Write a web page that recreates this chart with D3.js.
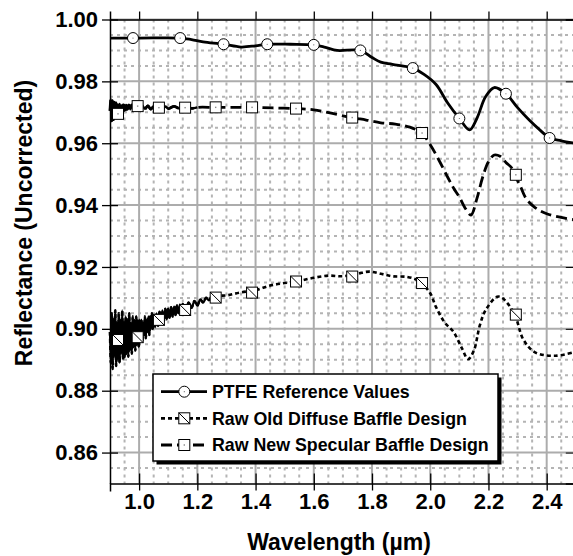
<!DOCTYPE html>
<html>
<head>
<meta charset="utf-8">
<script src="https://cdn.jsdelivr.net/npm/d3@7/dist/d3.min.js"></script>
<style>
  body { margin: 0; background: #fff; }
  svg { display: block; font-family: "Liberation Sans", Arial, sans-serif; font-weight: bold; }
</style>
</head>
<body>
<svg id="chart" width="573" height="556"></svg>
<script>
// ---- data: [wavelength (um), reflectance] ----
var ptfe = [[0.90,0.9940],[1.00,0.9940],[1.14,0.9940],[1.18,0.9935],[1.22,0.9928],[1.29,0.9920],
  [1.35,0.9911],[1.40,0.9915],[1.44,0.9920],[1.52,0.9920],[1.60,0.9918],[1.64,0.9910],[1.68,0.9900],
  [1.76,0.9900],[1.80,0.9877],[1.83,0.9862],[1.87,0.9855],[1.94,0.9843],[1.98,0.9822],[2.02,0.9790],
  [2.06,0.9730],[2.10,0.9680],[2.135,0.9643],[2.16,0.9680],[2.19,0.9750],[2.22,0.9780],[2.26,0.9760],
  [2.30,0.9715],[2.34,0.9675],[2.38,0.9640],[2.41,0.9617],[2.45,0.9608],[2.50,0.9600]];

var oldDiffuse = [[0.900,0.899],[0.903,0.889],[0.906,0.905],[0.909,0.887],[0.912,0.903],[0.915,0.891],
  [0.918,0.906],[0.921,0.888],[0.924,0.902],[0.927,0.890],[0.930,0.905],[0.933,0.889],[0.936,0.903],
  [0.939,0.892],[0.942,0.906],[0.945,0.890],[0.948,0.902],[0.951,0.891],[0.954,0.904],[0.957,0.892],
  [0.960,0.903],[0.963,0.891],[0.966,0.905],[0.969,0.893],[0.972,0.902],[0.975,0.892],[0.978,0.904],
  [0.981,0.894],[0.984,0.903],[0.987,0.893],[0.990,0.904],[0.993,0.895],[0.996,0.903],[0.999,0.894],
  [1.002,0.903],[1.005,0.896],[1.008,0.903],[1.011,0.896],[1.014,0.902],[1.017,0.898],[1.020,0.904],
  [1.023,0.897],[1.026,0.903],[1.029,0.899],[1.032,0.904],[1.035,0.898],[1.038,0.904],[1.041,0.900],
  [1.044,0.905],[1.047,0.900],[1.050,0.904],
  [1.055,0.9005],[1.060,0.9050],[1.065,0.9010],[1.070,0.9055],[1.075,0.9020],[1.080,0.9060],
  [1.085,0.9025],[1.090,0.9065],[1.095,0.9030],[1.100,0.9065],[1.105,0.9035],[1.110,0.9070],
  [1.115,0.9040],[1.120,0.9072],[1.125,0.9045],[1.130,0.9075],[1.135,0.9050],[1.140,0.9078],
  [1.145,0.9055],[1.150,0.9080],[1.160,0.9060],[1.170,0.9085],[1.180,0.9068],[1.190,0.9090],
  [1.200,0.9075],[1.210,0.9095],[1.220,0.9085],[1.230,0.9100],[1.240,0.9092],[1.250,0.9105],
  [1.30,0.9108],[1.35,0.9118],[1.40,0.9125],[1.45,0.9140],[1.50,0.9148],[1.55,0.9155],[1.60,0.9165],
  [1.65,0.9172],[1.70,0.9170],[1.75,0.9178],[1.79,0.9185],[1.83,0.9178],[1.87,0.9170],[1.92,0.9168],
  [1.95,0.9160],[1.97,0.9148],[2.00,0.9115],[2.02,0.9070],[2.05,0.9020],[2.08,0.8990],[2.11,0.8935],
  [2.13,0.8902],[2.15,0.8930],[2.17,0.9010],[2.19,0.9060],[2.23,0.9104],[2.25,0.9098],[2.29,0.9046],
  [2.32,0.8965],[2.36,0.8924],[2.43,0.8913],[2.50,0.8926]];

var newSpecular = [[0.900,0.9705],[0.903,0.9742],[0.906,0.9672],[0.909,0.9738],[0.912,0.9676],
  [0.915,0.9733],[0.918,0.9685],[0.921,0.9730],[0.924,0.9692],[0.927,0.9725],[0.930,0.9698],
  [0.933,0.9727],[0.936,0.9700],[0.939,0.9722],[0.942,0.9703],[0.945,0.9724],[0.948,0.9706],
  [0.951,0.9722],[0.954,0.9708],[0.957,0.9724],[0.960,0.9710],
  [0.965,0.9724],[0.970,0.9710],[0.975,0.9724],[0.980,0.9711],[0.985,0.9724],[0.990,0.9712],
  [0.995,0.9725],[1.00,0.9712],[1.01,0.9723],[1.02,0.9711],[1.03,0.9721],[1.04,0.9710],[1.05,0.9720],
  [1.06,0.9711],[1.07,0.9720],[1.08,0.9711],[1.09,0.9719],[1.10,0.9712],[1.12,0.9719],[1.14,0.9712],
  [1.16,0.9718],[1.18,0.9713],[1.20,0.9716],[1.26,0.9716],[1.32,0.9716],[1.39,0.9716],[1.46,0.9714],
  [1.54,0.9712],[1.60,0.9708],[1.66,0.9697],[1.73,0.9683],[1.78,0.9675],[1.83,0.9666],[1.88,0.9662],
  [1.93,0.9652],[1.97,0.9633],[2.00,0.9595],[2.03,0.9545],[2.06,0.9490],[2.08,0.9455],[2.10,0.9426],
  [2.12,0.9390],[2.14,0.9368],[2.16,0.9420],[2.18,0.9490],[2.20,0.9540],[2.22,0.9562],[2.24,0.9558],
  [2.26,0.9538],[2.28,0.9520],[2.29,0.9498],[2.31,0.9460],[2.33,0.9420],[2.36,0.9392],[2.40,0.9372],
  [2.45,0.9360],[2.50,0.9352]];

var ptfeMarks = [[0.979,0.994],[1.141,0.994],[1.29,0.992],[1.44,0.992],[1.60,0.9918],
  [1.76,0.990],[1.94,0.9843],[2.10,0.968],[2.26,0.976],[2.41,0.9617]];
var oldMarks = [[0.9275,0.8964],[0.995,0.8973],[1.068,0.9029],[1.158,0.9061],[1.263,0.9101],
  [1.388,0.9117],[1.539,0.9153],[1.732,0.9169],[1.972,0.9148],[2.294,0.9046]];
var newMarks = [[0.9275,0.9695],[0.995,0.972],[1.068,0.9715],[1.158,0.9715],[1.263,0.9716],
  [1.388,0.9716],[1.539,0.9712],[1.732,0.9683],[1.972,0.9633],[2.294,0.9498]];

var xTicks = [1.0, 1.2, 1.4, 1.6, 1.8, 2.0, 2.2, 2.4];
var yTicks = [0.86, 0.88, 0.90, 0.92, 0.94, 0.96, 0.98, 1.00];
var legendLabels = ["PTFE Reference Values", "Raw Old Diffuse Baffle Design", "Raw New Specular Baffle Design"];

// ---- layout ----
var margin = {left: 110, top: 19.5},
    width = 465.8, height = 464;

var svg = d3.select("#chart");
var g = svg.append("g").attr("transform", "translate(" + margin.left + "," + margin.top + ")");

var x = d3.scaleLinear().domain([0.9, 2.5]).range([0, width]);
var y = d3.scaleLinear().domain([0.85, 1.00]).range([height, 0]);

svg.append("defs").append("clipPath").attr("id", "plotclip")
  .append("rect").attr("x", -3).attr("y", -2).attr("width", width + 3).attr("height", height + 2);

// minor grid (dotted)
var minorX = d3.range(0.95, 2.5, 0.05).filter(function(v){ return Math.abs(v*5 - Math.round(v*5)) > 1e-6; });
var minorY = d3.range(0.855, 1.0, 0.005).filter(function(v){ return Math.abs(v*50 - Math.round(v*50)) > 1e-6; });

g.append("g").selectAll("line").data(minorX).join("line")
  .attr("x1", function(d){ return x(d); }).attr("x2", function(d){ return x(d); })
  .attr("y1", 0).attr("y2", height)
  .attr("stroke", "#b4b4b4").attr("stroke-width", 2).attr("stroke-dasharray", "3,4");
g.append("g").selectAll("line").data(minorY).join("line")
  .attr("y1", function(d){ return y(d); }).attr("y2", function(d){ return y(d); })
  .attr("x1", 0).attr("x2", width)
  .attr("stroke", "#b4b4b4").attr("stroke-width", 2).attr("stroke-dasharray", "3,4");

// major grid
g.append("g").selectAll("line").data(xTicks).join("line")
  .attr("x1", function(d){ return x(d); }).attr("x2", function(d){ return x(d); })
  .attr("y1", 0).attr("y2", height)
  .attr("stroke", "#acacac").attr("stroke-width", 2);
g.append("g").selectAll("line").data(yTicks).join("line")
  .attr("y1", function(d){ return y(d); }).attr("y2", function(d){ return y(d); })
  .attr("x1", 0).attr("x2", width)
  .attr("stroke", "#acacac").attr("stroke-width", 2);

// axes
var fontFam = '"Liberation Sans", Arial, sans-serif';
var yAxis = g.append("g")
  .call(d3.axisLeft(y).tickValues(yTicks).tickFormat(d3.format(".2f")).tickSizeInner(8).tickSizeOuter(0));
yAxis.selectAll(".tick line").attr("x2", 8).attr("x1", -8).attr("stroke-width", 1.3);
yAxis.select(".domain").attr("stroke-width", 1.5);
yAxis.selectAll("text").attr("font-size", 22).attr("font-weight", "bold").attr("fill", "#000")
  .attr("x", -12).attr("dy", "0.32em").style("font-family", fontFam);

var xAxis = g.append("g").attr("transform", "translate(0," + height + ")")
  .call(d3.axisBottom(x).tickValues(xTicks).tickFormat(d3.format(".1f")).tickSizeOuter(0).tickSize(8));
xAxis.selectAll(".tick line").attr("y1", -10).attr("y2", 7).attr("stroke-width", 1.3);
xAxis.select(".domain").attr("stroke-width", 1.5);
xAxis.selectAll("text").attr("font-size", 22).attr("font-weight", "bold").attr("fill", "#000")
  .attr("y", 25).attr("dy", 0).style("font-family", fontFam);

var xTop = g.append("g")
  .call(d3.axisTop(x).tickValues(xTicks).tickFormat("").tickSizeOuter(0).tickSize(8));
xTop.select(".domain").attr("stroke-width", 1.5);
xTop.selectAll(".tick line").attr("stroke-width", 1.3);

var yRight = g.append("g").attr("transform", "translate(" + width + ",0)")
  .call(d3.axisRight(y).tickValues(yTicks).tickFormat("").tickSizeOuter(0).tickSize(-10));
yRight.select(".domain").attr("stroke-width", 1.5);

// series
var line = d3.line().x(function(d){ return x(d[0]); }).y(function(d){ return y(d[1]); })
  .curve(d3.curveCatmullRom.alpha(0.5));
var series = g.append("g").attr("clip-path", "url(#plotclip)");

// dense noisy start of the raw spectra reads as solid black
series.append("path").datum(oldDiffuse.filter(function(d){ return d[0] <= 1.25; })).attr("d", line)
  .attr("fill", "none").attr("stroke", "#000").attr("stroke-width", 2.2);
series.append("path").datum(newSpecular.filter(function(d){ return d[0] <= 1.20; })).attr("d", line)
  .attr("fill", "none").attr("stroke", "#000").attr("stroke-width", 2.4);

series.append("path").datum(oldDiffuse).attr("d", line)
  .attr("fill", "none").attr("stroke", "#000").attr("stroke-width", 2.6).attr("stroke-dasharray", "4,3");
series.append("path").datum(newSpecular).attr("d", line)
  .attr("fill", "none").attr("stroke", "#000").attr("stroke-width", 2.8).attr("stroke-dasharray", "11,5");
series.append("path").datum(ptfe).attr("d", line)
  .attr("fill", "none").attr("stroke", "#000").attr("stroke-width", 2.8);

function circleMark(sel, cx, cy) {
  sel.append("circle").attr("cx", cx).attr("cy", cy).attr("r", 5.5)
    .attr("fill", "#fff").attr("stroke", "#000").attr("stroke-width", 1);
  sel.append("circle").attr("cx", cx).attr("cy", cy).attr("r", 0.6).attr("fill", "#666");
}
function squareMark(sel, cx, cy, diag) {
  sel.append("rect").attr("x", cx - 5.5).attr("y", cy - 5.5).attr("width", 11).attr("height", 11)
    .attr("fill", "#fff").attr("stroke", "#000").attr("stroke-width", 1);
  if (diag) {
    sel.append("line").attr("x1", cx - 5.5).attr("y1", cy - 5.5).attr("x2", cx + 5.5).attr("y2", cy + 5.5)
      .attr("stroke", "#000").attr("stroke-width", 1);
  } else {
    sel.append("rect").attr("x", cx - 0.7).attr("y", cy - 0.7).attr("width", 1.4).attr("height", 1.4).attr("fill", "#888");
  }
}

var marks = g.append("g");
oldMarks.forEach(function(d){ squareMark(marks, x(d[0]), y(d[1]), true); });
newMarks.forEach(function(d){ squareMark(marks, x(d[0]), y(d[1]), false); });
ptfeMarks.forEach(function(d){ circleMark(marks, x(d[0]), y(d[1])); });

// legend
var lg = svg.append("g");
var lx = 153, ly = 374, lw = 345, lh = 87;
lg.append("rect").attr("x", lx + 3.5).attr("y", ly + 3.5).attr("width", lw).attr("height", lh).attr("fill", "#000");
lg.append("rect").attr("x", lx).attr("y", ly).attr("width", lw).attr("height", lh)
  .attr("fill", "#fff").attr("stroke", "#000").attr("stroke-width", 1.5);

var rowsY = [391.7, 418.3, 445];
var dashes = [null, "4,3", "11,5"];
legendLabels.forEach(function(lbl, i){
  var ry = rowsY[i];
  var ln = lg.append("line").attr("x1", 161).attr("x2", 207).attr("y1", ry).attr("y2", ry)
    .attr("stroke", "#000").attr("stroke-width", 2.8);
  if (dashes[i]) ln.attr("stroke-dasharray", dashes[i]);
  if (i === 0) circleMark(lg, 184.3, ry);
  else squareMark(lg, 184.3, ry, i === 1);
  lg.append("text").attr("x", 212).attr("y", ry).attr("dy", "0.36em")
    .attr("font-size", 17.8).attr("fill", "#000").text(lbl);
});

// axis titles
svg.append("text").attr("x", 339).attr("y", 550).attr("text-anchor", "middle")
  .attr("font-size", 23).text("Wavelength (\u00b5m)");
svg.append("text").attr("transform", "translate(32,223) rotate(-90)").attr("text-anchor", "middle")
  .attr("font-size", 23).text("Reflectance (Uncorrected)");
</script>
</body>
</html>
